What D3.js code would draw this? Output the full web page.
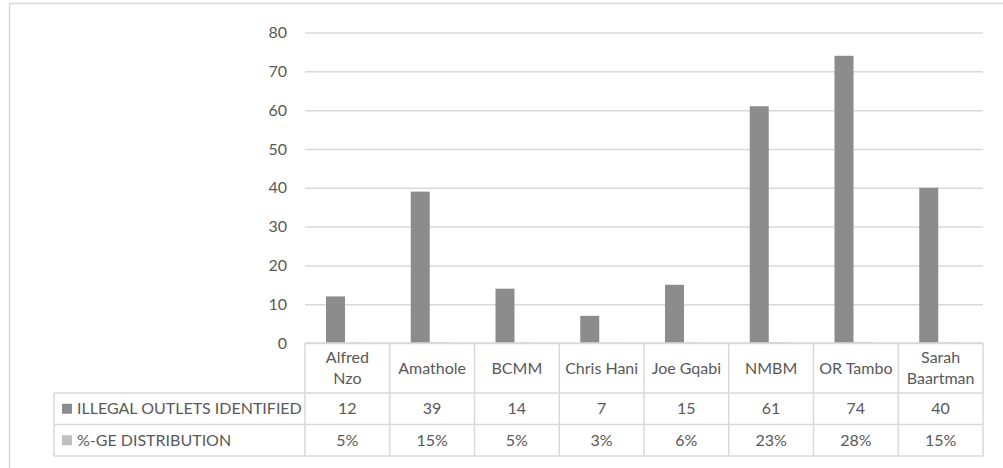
<!DOCTYPE html>
<html>
<head>
<meta charset="utf-8">
<script src="https://cdn.jsdelivr.net/npm/d3@7"></script>
<style>
  html, body { margin: 0; padding: 0; background: #fff; }
  svg text { font-family: Lato, "Noto Sans", sans-serif; fill: #595959; }
</style>
</head>
<body>
<svg id="chart" width="1003" height="468"></svg>
<script>
// Districts / metros along the category axis
const categories = ["Alfred Nzo", "Amathole", "BCMM", "Chris Hani", "Joe Gqabi", "NMBM", "OR Tambo", "Sarah Baartman"];
// Wrapped header text for the data-table row
const categoryLabels = [["Alfred", "Nzo"], ["Amathole"], ["BCMM"], ["Chris Hani"], ["Joe Gqabi"], ["NMBM"], ["OR Tambo"], ["Sarah", "Baartman"]];
// Series
const seriesNames = ["ILLEGAL OUTLETS IDENTIFIED", "%-GE DISTRIBUTION"];
const outlets = [12, 39, 14, 7, 15, 61, 74, 40];
const distributionPct = [5, 15, 5, 3, 6, 23, 28, 15];
const yTicks = [0, 10, 20, 30, 40, 50, 60, 70, 80];

const seriesColors = ["#8c8c8c", "#bfbfbf"];
const gridColor = "#d9d9d9";
const fontSize = 16;

const svg = d3.select("#chart");

// outer chart frame
svg.append("rect")
  .attr("x", 9.5).attr("y", 3.5)
  .attr("width", 1000).attr("height", 480)
  .attr("fill", "none").attr("stroke", gridColor).attr("stroke-width", 1.5);

const plotLeft = 305, plotRight = 983, plotTop = 32.5, plotBottom = 343;
const tableLeft = 54;
const rowLines = [343, 393, 424.5, 456];

const x = d3.scaleBand().domain(categories).range([plotLeft, plotRight]).padding(0);
const x1 = d3.scaleBand().domain(seriesNames).range([21, 59]).padding(0);
const y = d3.scaleLinear().domain([0, 80]).range([plotBottom, plotTop]);

// value gridlines + tick labels
const yAxis = svg.append("g")
  .attr("transform", `translate(${plotLeft},0)`)
  .call(d3.axisLeft(y).tickValues(yTicks).tickSize(-(plotRight - plotLeft)).tickPadding(18));
yAxis.select(".domain").remove();
yAxis.selectAll(".tick line").attr("stroke", gridColor).attr("stroke-width", 1.5);
yAxis.selectAll(".tick text")
  .attr("fill", "#595959")
  .style("font-family", "Lato, 'Noto Sans', sans-serif")
  .style("font-size", fontSize + "px");

// bars
const seriesValues = [outlets, distributionPct.map(d => d / 100)];
seriesNames.forEach((name, si) => {
  svg.append("g").selectAll("rect")
    .data(categories.map((c, i) => ({ c, v: seriesValues[si][i] })))
    .join("rect")
    .attr("x", d => x(d.c) + x1(name))
    .attr("y", d => y(d.v))
    .attr("width", x1.bandwidth())
    .attr("height", d => y(0) - y(d.v))
    .attr("fill", seriesColors[si]);
});

// data table
const table = svg.append("g").attr("stroke", gridColor).attr("stroke-width", 1.5).attr("fill", "none");
table.append("line").attr("x1", plotLeft).attr("x2", plotRight).attr("y1", rowLines[0]).attr("y2", rowLines[0]);
rowLines.slice(1).forEach(yy => {
  table.append("line").attr("x1", tableLeft).attr("x2", plotRight).attr("y1", yy).attr("y2", yy);
});
table.append("line").attr("x1", tableLeft).attr("x2", tableLeft).attr("y1", rowLines[1]).attr("y2", rowLines[3]);
categories.concat([null]).forEach(c => {
  const xx = c === null ? plotRight : x(c);
  table.append("line").attr("x1", xx).attr("x2", xx).attr("y1", rowLines[0]).attr("y2", rowLines[3]);
});

// header labels
categories.forEach((c, i) => {
  const lines = categoryLabels[i];
  const cy = (rowLines[0] + rowLines[1]) / 2;
  const lh = 21;
  const t = svg.append("text")
    .attr("text-anchor", "middle")
    .style("font-size", fontSize + "px");
  lines.forEach((ln, k) => {
    t.append("tspan")
      .attr("x", x(c) + x.bandwidth() / 2)
      .attr("y", cy + (k - (lines.length - 1) / 2) * lh)
      .attr("dy", "0.35em")
      .text(ln);
  });
});

// series rows
const rowTexts = [outlets.map(String), distributionPct.map(d => d + "%")];
seriesNames.forEach((name, si) => {
  const cy = (rowLines[si + 1] + rowLines[si + 2]) / 2;
  svg.append("rect")
    .attr("x", 62).attr("y", cy - 5)
    .attr("width", 10).attr("height", 10)
    .attr("fill", seriesColors[si]);
  svg.append("text")
    .attr("x", 77).attr("y", cy).attr("dy", "0.35em")
    .style("font-size", fontSize + "px")
    .text(name);
  rowTexts[si].forEach((t, i) => {
    svg.append("text")
      .attr("x", x(categories[i]) + x.bandwidth() / 2)
      .attr("y", cy).attr("dy", "0.35em")
      .attr("text-anchor", "middle")
      .style("font-size", fontSize + "px")
      .text(t);
  });
});
</script>
</body>
</html>
